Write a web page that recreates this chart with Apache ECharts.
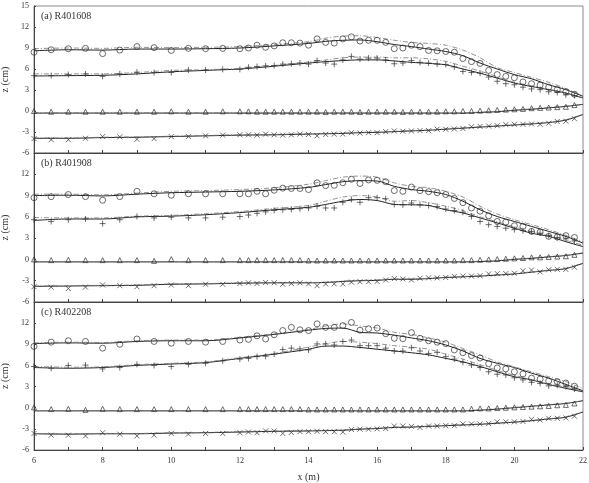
<!DOCTYPE html>
<html>
<head>
<meta charset="utf-8">
<script src="https://cdn.jsdelivr.net/npm/echarts@6/dist/echarts.min.js"></script>
<style>
html,body{margin:0;padding:0;background:#fff}
#chart{width:589px;height:483px}
</style>
</head>
<body>
<div id="chart"></div>
<script>
// 测点位置 (m)
var xObs = [6,6.5,7,7.5,8,8.5,9,9.5,10,10.5,11,11.5,12,12.25,12.5,12.75,13,13.25,13.5,13.75,
    14,14.25,14.5,14.75,15,15.25,15.5,15.75,16,16.25,16.5,16.75,17,17.25,17.5,17.75,18,18.25,18.5,18.75,
    19,19.25,19.5,19.75,20,20.25,20.5,20.75,21,21.25,21.5,21.75];
// 计算曲线位置 (m)
var xLine = [6,7,8,9,10,11,12,13,14,14.5,15,15.5,16,16.5,17,17.5,18,18.5,19,19.5,20,20.5,21,21.5,22];

var panelNames = ['(a) R401608', '(b) R401908', '(c) R402208'];

// (a) R401608
var circleA = [8.4,8.75,8.9,8.95,8.2,8.7,9.2,9.05,8.65,8.95,8.9,8.95,8.9,9.0,9.4,9.1,9.3,9.75,9.75,9.7,
    9.4,10.3,9.8,9.7,10.3,10.6,10.0,10.1,10.1,9.8,8.9,9.0,9.4,9.2,8.65,8.6,8.5,8.4,7.5,7.05,
    6.8,5.8,5.2,4.95,4.75,4.15,3.9,3.7,3.4,3.05,2.75,2.4];
var plusA = [5.05,5.05,5.2,5.3,4.95,5.3,5.55,5.5,5.5,5.85,5.85,5.95,5.95,6.25,6.35,6.45,6.5,6.7,6.75,6.85,
    6.7,7.2,6.85,6.7,7.3,7.8,7.4,7.55,7.55,7.3,6.75,6.85,7.2,6.95,6.85,6.7,6.65,6.3,5.65,5.5,
    5.4,4.85,4.25,3.9,3.75,3.4,3.15,3.05,2.75,2.65,2.3,2.2];
var triA = [0.0,-0.1,-0.1,-0.1,-0.1,-0.1,-0.1,-0.1,-0.05,-0.1,-0.1,-0.05,-0.05,-0.05,-0.1,-0.1,-0.1,-0.1,-0.1,-0.1,
    -0.1,-0.1,-0.15,-0.1,-0.1,-0.1,-0.15,-0.1,-0.1,-0.1,-0.1,-0.15,-0.1,-0.1,-0.1,-0.1,-0.05,-0.05,0.0,0.0,
    0.05,0.1,0.15,0.2,0.25,0.3,0.4,0.45,0.5,0.55,0.6,0.85];
var crossA = [-3.95,-4.1,-4.1,-3.9,-3.65,-3.7,-4.05,-3.95,-3.65,-3.65,-3.55,-3.45,-3.4,-3.4,-3.45,-3.3,-3.4,-3.45,-3.4,-3.3,
    -3.35,-3.55,-3.35,-3.3,-3.3,-3.1,-3.15,-3.1,-3.1,-2.95,-2.85,-2.9,-2.85,-2.8,-2.8,-2.6,-2.6,-2.55,-2.5,-2.25,
    -2.2,-2.15,-2.1,-1.95,-1.9,-1.9,-1.85,-1.9,-1.75,-1.5,-1.45,-1.1];
var circleA_solid = [8.6,8.75,8.7,8.85,8.85,8.9,9.0,9.3,9.65,9.95,10.1,10.15,9.9,9.5,9.2,8.85,8.5,7.9,6.85,6.0,5.2,4.6,3.75,3.05,2.1];
var circleA_dash = [8.9,9.0,8.95,9.1,9.05,9.1,9.2,9.5,9.9,10.4,10.7,10.75,10.5,10.1,9.8,9.65,9.4,8.7,7.6,6.2,5.5,4.8,4.1,3.2,2.2];
var plusA_solid = [5.0,5.05,5.1,5.3,5.6,5.8,6.0,6.4,6.85,7.05,7.2,7.3,7.3,7.15,6.95,6.8,6.6,6.0,5.4,4.7,4.0,3.5,3.05,2.55,1.85];
var plusA_dash = [5.3,5.3,5.3,5.5,5.8,5.9,6.1,6.5,7.0,7.3,7.6,7.7,7.7,7.6,7.6,7.45,7.1,6.4,5.7,4.9,4.1,3.6,3.1,2.6,1.9];
var triA_solid = [-0.3,-0.3,-0.3,-0.3,-0.3,-0.3,-0.3,-0.3,-0.3,-0.3,-0.3,-0.3,-0.3,-0.3,-0.3,-0.3,-0.3,-0.3,-0.2,-0.1,0.1,0.25,0.45,0.65,0.95];
var triA_dash = [-0.25,-0.25,-0.25,-0.25,-0.25,-0.25,-0.25,-0.25,-0.25,-0.25,-0.25,-0.25,-0.25,-0.25,-0.25,-0.25,-0.25,-0.25,-0.15,-0.05,0.15,0.3,0.5,0.7,0.95];
var crossA_solid = [-3.9,-3.9,-3.8,-3.75,-3.65,-3.55,-3.45,-3.4,-3.3,-3.25,-3.2,-3.1,-3.05,-2.95,-2.85,-2.75,-2.6,-2.45,-2.3,-2.15,-2.0,-1.85,-1.65,-1.3,-0.5];
var crossA_dash = [-3.85,-3.85,-3.75,-3.7,-3.6,-3.5,-3.4,-3.35,-3.25,-3.2,-3.15,-3.05,-3.0,-2.9,-2.8,-2.7,-2.55,-2.4,-2.25,-2.1,-1.95,-1.8,-1.6,-1.25,-0.45];

// (b) R401908
var circleB = [8.7,8.85,9.15,8.85,8.35,8.85,9.6,9.25,9.05,9.25,9.25,9.25,9.25,9.25,9.6,9.25,9.75,10.05,10.0,10.0,
    9.85,10.8,10.4,10.45,10.8,11.3,10.7,11.2,11.15,10.95,9.7,9.6,10.2,9.7,9.55,9.4,9.15,8.6,8.0,7.25,
    6.8,6.15,5.35,5.25,4.75,4.65,3.95,3.85,3.25,3.15,3.35,3.1];
var plusB = [5.6,5.35,5.6,5.7,5.05,5.6,6.05,5.85,5.95,5.85,5.85,5.95,6.05,6.25,6.5,6.7,6.9,7.0,7.05,7.15,
    7.25,7.5,7.25,7.25,8.05,8.45,8.05,8.7,8.7,8.55,7.75,7.7,7.95,7.7,7.6,7.45,7.1,6.9,6.65,6.05,
    5.35,4.9,4.65,4.4,4.2,4.05,3.95,3.7,3.35,3.1,2.9,2.6];
var triB = [0.0,-0.1,-0.05,-0.1,-0.1,-0.1,-0.1,-0.2,0.05,-0.1,-0.1,-0.1,-0.1,-0.1,-0.1,-0.1,-0.1,-0.1,-0.1,-0.1,
    -0.15,-0.15,-0.15,-0.15,-0.15,-0.15,-0.15,-0.15,-0.15,-0.15,-0.15,-0.15,-0.15,-0.15,-0.15,-0.15,-0.15,-0.15,-0.1,-0.1,
    -0.05,0.0,0.05,0.1,0.15,0.2,0.3,0.3,0.35,0.4,0.45,0.65];
var crossB = [-3.85,-3.9,-4.1,-3.9,-3.6,-3.7,-3.85,-3.7,-3.6,-3.7,-3.5,-3.5,-3.4,-3.3,-3.4,-3.25,-3.3,-3.5,-3.4,-3.3,
    -3.45,-3.7,-3.45,-3.45,-3.45,-3.2,-3.15,-3.15,-3.1,-2.9,-2.7,-2.75,-2.9,-2.65,-2.6,-2.6,-2.55,-2.4,-2.35,-2.35,
    -2.3,-2.05,-2.0,-2.0,-1.95,-1.6,-1.5,-1.75,-1.45,-1.4,-1.4,-1.1];
var circleB_solid = [9.0,9.05,8.95,9.2,9.4,9.5,9.6,9.8,10.15,10.55,10.95,11.1,11.05,10.3,9.85,9.6,9.15,8.2,7.0,6.05,5.35,4.65,3.95,3.25,2.3];
var circleB_dash = [9.2,9.2,9.1,9.35,9.6,9.7,9.85,10.1,10.6,11.1,11.6,11.75,11.6,10.8,10.3,10.1,9.6,8.8,7.5,6.4,5.6,4.9,4.2,3.4,2.5];
var plusB_solid = [5.5,5.7,5.7,6.0,6.1,6.3,6.6,7.0,7.35,7.75,8.2,8.45,8.3,7.75,7.7,7.6,7.0,6.55,5.85,5.15,4.4,3.7,3.25,2.5,1.8];
var plusB_dash = [5.9,5.85,5.85,6.1,6.2,6.45,6.75,7.2,7.6,8.2,8.8,9.0,8.8,8.2,8.3,8.0,7.5,6.9,6.0,5.3,4.6,3.9,3.4,2.7,2.0];
var triB_solid = [-0.35,-0.35,-0.35,-0.35,-0.35,-0.35,-0.35,-0.35,-0.35,-0.35,-0.35,-0.35,-0.35,-0.35,-0.35,-0.35,-0.35,-0.35,-0.3,-0.2,0.0,0.15,0.35,0.55,0.9];
var triB_dash = [-0.3,-0.3,-0.3,-0.3,-0.3,-0.3,-0.3,-0.3,-0.3,-0.3,-0.3,-0.3,-0.3,-0.3,-0.3,-0.3,-0.3,-0.3,-0.25,-0.15,0.05,0.2,0.4,0.6,0.95];
var crossB_solid = [-3.8,-3.75,-3.7,-3.65,-3.5,-3.45,-3.35,-3.3,-3.3,-3.25,-3.1,-3.0,-2.95,-2.8,-2.8,-2.7,-2.55,-2.45,-2.35,-2.2,-2.05,-1.8,-1.55,-1.3,-0.55];
var crossB_dash = [-3.75,-3.7,-3.65,-3.6,-3.45,-3.4,-3.3,-3.25,-3.25,-3.2,-3.05,-2.95,-2.9,-2.75,-2.75,-2.65,-2.5,-2.4,-2.3,-2.15,-2.0,-1.75,-1.5,-1.25,-0.5];

// (c) R402208
var circleC = [8.7,9.3,9.5,9.4,8.45,9.0,9.75,9.4,9.15,9.4,9.3,9.4,9.6,9.7,10.2,9.75,10.35,10.95,11.4,11.05,
    10.95,11.9,11.4,11.4,11.65,12.1,11.0,11.2,11.3,10.5,9.85,9.8,10.65,9.85,9.5,9.3,9.1,8.2,7.8,7.4,
    7.05,6.25,5.65,5.5,5.1,4.8,4.2,4.05,3.8,3.7,3.5,3.05];
var plusC = [5.85,5.6,6.0,6.05,5.5,5.7,6.15,6.0,5.85,6.15,6.3,6.65,6.9,7.0,7.25,7.3,7.6,8.25,8.45,8.35,
    8.2,9.05,9.05,8.9,9.4,9.6,8.8,8.8,8.8,8.45,8.05,8.05,8.5,8.05,7.7,7.85,7.25,6.9,6.45,6.05,
    5.7,5.1,4.75,4.65,4.25,3.95,3.6,3.45,3.1,3.2,3.0,2.65];
var triC = [0.05,-0.2,-0.15,-0.3,-0.15,-0.2,-0.2,-0.2,-0.2,-0.2,-0.2,-0.2,-0.2,-0.2,-0.2,-0.2,-0.2,-0.2,-0.2,-0.2,
    -0.25,-0.25,-0.25,-0.25,-0.25,-0.25,-0.25,-0.25,-0.25,-0.25,-0.25,-0.25,-0.25,-0.25,-0.25,-0.25,-0.25,-0.25,-0.25,-0.15,
    -0.1,-0.1,-0.05,0.0,0.05,0.1,0.15,0.2,0.25,0.35,0.4,0.6];
var crossC = [-3.65,-3.9,-3.9,-4.0,-3.55,-3.75,-4.0,-3.9,-3.65,-3.75,-3.65,-3.65,-3.55,-3.45,-3.55,-3.3,-3.3,-3.65,-3.5,-3.4,
    -3.4,-3.35,-3.4,-3.4,-3.45,-3.1,-3.05,-3.05,-3.0,-2.95,-2.6,-2.6,-2.65,-2.8,-2.6,-2.6,-2.55,-2.55,-2.3,-2.3,
    -2.3,-2.25,-2.0,-2.0,-2.0,-1.95,-1.65,-1.75,-1.5,-1.5,-1.45,-1.2];
var circleC_solid = [9.1,9.2,9.15,9.4,9.5,9.5,9.9,10.4,11.0,11.25,11.3,10.7,10.6,10.3,9.9,9.5,8.9,8.05,7.0,6.3,5.7,4.9,4.2,3.3,2.4];
var circleC_dash = [9.2,9.3,9.25,9.5,9.6,9.6,10.0,10.5,11.1,11.6,11.9,11.6,11.3,10.7,10.4,9.9,9.3,8.4,7.5,6.5,5.8,5.1,4.4,3.7,2.7];
var plusC_solid = [5.7,5.6,5.7,6.0,6.2,6.4,7.0,7.6,8.3,8.75,8.75,8.55,8.3,8.05,7.8,7.5,7.0,6.5,5.85,5.1,4.4,3.95,3.3,2.75,2.25];
var plusC_dash = [5.85,5.75,5.8,6.1,6.3,6.5,7.1,7.7,8.6,9.1,9.4,9.3,9.1,8.8,8.6,8.3,7.6,6.9,6.1,5.3,4.6,4.0,3.4,2.9,2.3];
var triC_solid = [-0.45,-0.45,-0.45,-0.45,-0.45,-0.45,-0.45,-0.45,-0.45,-0.45,-0.45,-0.45,-0.45,-0.45,-0.45,-0.45,-0.45,-0.45,-0.35,-0.2,0.0,0.2,0.4,0.6,1.0];
var triC_dash = [-0.4,-0.4,-0.4,-0.4,-0.4,-0.4,-0.4,-0.4,-0.4,-0.4,-0.4,-0.4,-0.4,-0.4,-0.4,-0.4,-0.4,-0.4,-0.3,-0.15,0.05,0.25,0.45,0.65,1.0];
var crossC_solid = [-3.7,-3.75,-3.7,-3.7,-3.6,-3.55,-3.45,-3.35,-3.3,-3.25,-3.2,-3.05,-2.95,-2.8,-2.75,-2.65,-2.55,-2.45,-2.35,-2.2,-2.05,-1.85,-1.6,-1.35,-0.6];
var crossC_dash = [-3.65,-3.7,-3.65,-3.65,-3.55,-3.5,-3.4,-3.3,-3.25,-3.2,-3.15,-3.0,-2.9,-2.75,-2.7,-2.6,-2.5,-2.4,-2.3,-2.15,-2.0,-1.8,-1.55,-1.3,-0.55];

var yTicks = [-6,-3,0,3,6,9,12,15];
var xLabels = [6,8,10,12,14,16,18,20,22];

var panels = [
    {obs: [circleA, plusA, triA, crossA],
     solid: [circleA_solid, plusA_solid, triA_solid, crossA_solid],
     dash: [circleA_dash, plusA_dash, triA_dash, crossA_dash]},
    {obs: [circleB, plusB, triB, crossB],
     solid: [circleB_solid, plusB_solid, triB_solid, crossB_solid],
     dash: [circleB_dash, plusB_dash, triB_dash, crossB_dash]},
    {obs: [circleC, plusC, triC, crossC],
     solid: [circleC_solid, plusC_solid, triC_solid, crossC_solid],
     dash: [circleC_dash, plusC_dash, triC_dash, crossC_dash]}
];

var FONT = 'Liberation Serif';
var gridTops = [6, 153, 302];
var gridHeights = [147, 149, 148];

var symbols = [
    {symbol: 'circle', size: 6},
    {symbol: 'path://M5,0 L5,10 M0,5 L10,5', size: 6},
    {symbol: 'triangle', size: 5},
    {symbol: 'path://M0,0 L10,10 M10,0 L0,10', size: 5}
];

function pairs(xs, ys) {
    var out = [];
    for (var i = 0; i < xs.length; i++) out.push([xs[i], ys[i]]);
    return out;
}

var chart = echarts.init(document.getElementById('chart'));

var grids = [], xAxes = [], yAxes = [], titles = [], series = [];

for (var p = 0; p < 3; p++) {
    grids.push({
        left: 34, right: 6, top: gridTops[p], height: gridHeights[p],
        show: true, borderColor: '#8a8a8a', borderWidth: 1,
        containLabel: false, outerBoundsMode: 'none'
    });
    var last = (p === 2);
    xAxes.push({
        type: 'value', gridIndex: p, min: 6, max: 22, interval: 1,
        name: last ? 'x (m)' : '', nameLocation: 'middle', nameGap: 22,
        nameTextStyle: {fontFamily: FONT, fontSize: 10, color: '#333'},
        axisLine: {show: true, onZero: false, lineStyle: {color: '#444', width: 1}},
        axisTick: {show: true, inside: true, length: 3, lineStyle: {color: '#444'}},
        splitLine: {show: false},
        axisLabel: {
            show: last, margin: 7, fontFamily: FONT, fontSize: 8, color: '#333',
            formatter: function (v) { return xLabels.indexOf(v) >= 0 ? String(v) : ''; }
        }
    });
    (function (pi) {
        yAxes.push({
            type: 'value', gridIndex: pi, min: -6, max: 15, interval: 3,
            name: 'z (cm)', nameLocation: 'middle', nameGap: 18, nameRotate: 90,
            nameTextStyle: {fontFamily: FONT, fontSize: 10, color: '#333'},
            axisLine: {show: true, lineStyle: {color: '#444', width: 1}},
            axisTick: {show: true, inside: true, length: 2, lineStyle: {color: '#444'}},
            splitLine: {show: false},
            axisLabel: {
                margin: 5, fontFamily: FONT, fontSize: 8, color: '#333',
                showMinLabel: true, showMaxLabel: true,
                formatter: function (v) {
                    if (yTicks.indexOf(v) < 0) return '';
                    if (v === 15 && pi > 0) return '';
                    return String(v);
                }
            }
        });
    })(p);
    titles.push({
        text: panelNames[p], left: 41, top: gridTops[p] + 5, padding: 0,
        textStyle: {fontFamily: FONT, fontSize: 10, fontWeight: 'normal', color: '#333'}
    });

    var pn = panels[p];
    for (var k = 0; k < 4; k++) {
        // 计算曲线：实线
        series.push({
            type: 'line', xAxisIndex: p, yAxisIndex: p,
            data: pairs(xLine, pn.solid[k]), showSymbol: false, smooth: 0.3,
            lineStyle: {color: '#222', width: 1}, z: 2, silent: true
        });
        // 计算曲线：点划线
        series.push({
            type: 'line', xAxisIndex: p, yAxisIndex: p,
            data: pairs(xLine, pn.dash[k]), showSymbol: false, smooth: 0.3,
            lineStyle: {color: '#777', width: 0.8, type: [5, 2, 1, 2]}, z: 2, silent: true
        });
        // 实测点
        series.push({
            type: 'scatter', xAxisIndex: p, yAxisIndex: p,
            data: pairs(xObs, pn.obs[k]),
            symbol: symbols[k].symbol, symbolSize: symbols[k].size,
            itemStyle: {color: 'rgba(0,0,0,0)', borderColor: '#333', borderWidth: 0.9},
            z: 3, silent: true
        });
    }
}

var option = {
    backgroundColor: '#fff',
    animation: false,
    title: titles,
    grid: grids,
    xAxis: xAxes,
    yAxis: yAxes,
    series: series
};
chart.setOption(option);
</script>
</body>
</html>
